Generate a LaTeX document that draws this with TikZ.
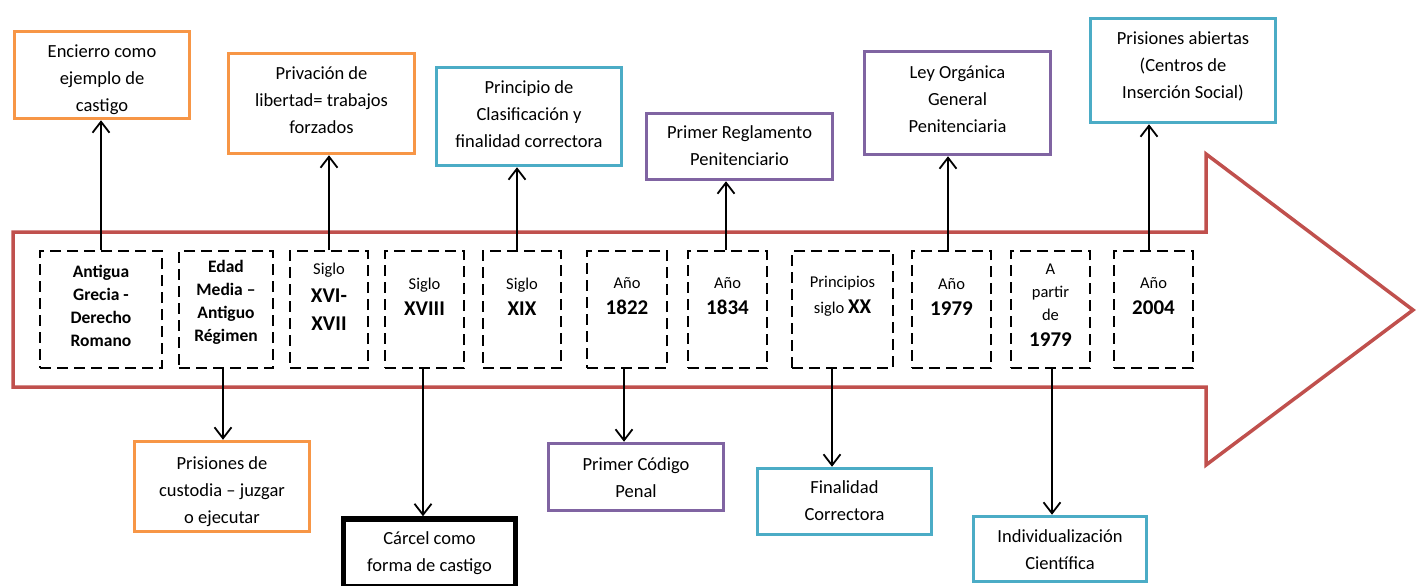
\documentclass[tikz,border=0pt]{standalone}
\usepackage{fontspec}
\setmainfont{Carlito}
\usetikzlibrary{arrows.meta}
\definecolor{cred}{HTML}{C0504D}
\definecolor{corange}{HTML}{F79646}
\definecolor{cblue}{HTML}{4BACC6}
\definecolor{cpurple}{HTML}{8064A2}
\newcommand\tfont{\fontsize{18.5}{27}\selectfont}
\newcommand\smallf{\fontsize{16.5}{26}\selectfont}
\newcommand\bigb{\fontsize{21}{26}\selectfont\bfseries}
\begin{document}
\begin{tikzpicture}[x=1pt,y=-1pt,
  ebox/.style={draw, line width=3.5pt, inner sep=0pt, fill=white},
  btxt/.style={align=center, font=\tfont, inner sep=0pt},
  dbox/.style={draw, line width=2pt, dash pattern=on 11pt off 6pt, minimum height=117pt, inner sep=0pt},
  dtxt/.style={align=center, inner sep=0pt},
  conn/.style={draw, line width=1.8pt, -{Straight Barb[length=11pt,width=17pt]}}]
\useasboundingbox (0,0) rectangle (1416,586);
\clip (0,0) rectangle (1416,586);
% big red arrow
\draw[cred, line width=3.5pt, line join=miter]
  (13,232) -- (1206,232) -- (1206,154) -- (1413,310) -- (1206,465) -- (1206,387) -- (13,387) -- cycle;
% top boxes
\node[ebox, draw=corange, minimum width=175pt, minimum height=87pt] (t1) at (102,75) {};
\node[btxt] (t1l) at (102,79.7) {Encierro como\\ejemplo de\\castigo};
\node[ebox, draw=corange, minimum width=186pt, minimum height=100pt] (t2) at (321.5,103.5) {};
\node[btxt] (t2l) at (321.5,100.5) {Privación de\\libertad= trabajos\\forzados};
\node[ebox, draw=cblue, minimum width=185pt, minimum height=98pt] (t3) at (529,116.5) {};
\node[btxt] (t3l) at (529,114.5) {Principio de\\Clasificación y\\finalidad correctora};
\node[ebox, draw=cpurple, minimum width=186pt, minimum height=66pt] (t4) at (739.5,146.5) {};
\node[btxt] (t4l) at (739.5,146) {Primer Reglamento\\Penitenciario};
\node[ebox, draw=cpurple, minimum width=186pt, minimum height=103pt] (t5) at (957.5,103) {};
\node[btxt] (t5l) at (957.5,99) {Ley Orgánica\\General\\Penitenciaria};
\node[ebox, draw=cblue, minimum width=185pt, minimum height=104pt] (t6) at (1183,70.5) {};
\node[btxt] (t6l) at (1183,66) {Prisiones abiertas\\(Centros de\\Inserción Social)};
% bottom boxes
\node[ebox, draw=corange, minimum width=175pt, minimum height=90pt] (b1) at (222,486.5) {};
\node[btxt] (b1l) at (222,491.5) {Prisiones de\\custodia – juzgar\\o ejecutar};
\node[ebox, draw=black, line width=5.5pt, minimum width=172pt, minimum height=68pt] (b2) at (429.5,553) {};
\node[btxt] (b2l) at (429.5,553) {Cárcel como\\forma de castigo};
\node[ebox, draw=cpurple, minimum width=175pt, minimum height=67pt] (b3) at (636,477) {};
\node[btxt] (b3l) at (636,478) {Primer Código\\Penal};
\node[ebox, draw=cblue, minimum width=174pt, minimum height=66pt] (b4) at (844.5,501.5) {};
\node[btxt] (b4l) at (844.5,500.5) {Finalidad\\Correctora};
\node[ebox, draw=cblue, minimum width=173pt, minimum height=65pt] (b5) at (1060,549) {};
\node[btxt] (b5l) at (1060,549.5) {Individualización\\Científica};
% dashed boxes
\node[dbox, minimum width=122pt] (d1) at (101,309.5) {};
\node[dbox, minimum width=94pt] (d2) at (226,309.5) {};
\node[dbox, minimum width=78pt] (d3) at (329,309.5) {};
\node[dbox, minimum width=79pt] (d4) at (424.5,309.5) {};
\node[dbox, minimum width=78pt] (d5) at (522,309.5) {};
\node[dbox, minimum width=80pt] (d6) at (627,309.5) {};
\node[dbox, minimum width=79pt] (d7) at (727.5,309.5) {};
\node[dbox, minimum width=101pt] (d8) at (842.5,309.5) {};
\node[dbox, minimum width=79pt] (d9) at (951.5,309.5) {};
\node[dbox, minimum width=79pt] (d10) at (1050.5,309.5) {};
\node[dbox, minimum width=79pt] (d11) at (1153.5,309.5) {};
% texts in dashed boxes
\node[dtxt, font=\fontsize{17.5}{23}\selectfont\bfseries] (d1t) at (101,305.5) {Antigua\\Grecia -\\Derecho\\Romano};
\node[dtxt, font=\fontsize{17.5}{23}\selectfont\bfseries] (d2t) at (226,302.5) {Edad\\Media –\\Antiguo\\Régimen};
\node[dtxt, font=\fontsize{16.5}{28}\selectfont] (d3t) at (329,297) {Siglo\\{\bigb XVI-}\\{\bigb XVII}};
\node[dtxt, font=\smallf] (d4t) at (424.5,296.5) {Siglo\\{\bigb XVIII}};
\node[dtxt, font=\smallf] (d5t) at (522,296.5) {Siglo\\{\bigb XIX}};
\node[dtxt, font=\smallf] (d6t) at (627,296.5) {Año\\{\bigb 1822}};
\node[dtxt, font=\smallf] (d7t) at (727.5,296.5) {Año\\{\bigb 1834}};
\node[dtxt, font=\smallf] (d8t) at (842.5,296.5) {Principios\\siglo {\bigb XX}};
\node[dtxt, font=\smallf] (d9t) at (951.5,296.5) {Año\\{\bigb 1979}};
\node[dtxt, font=\fontsize{16.5}{23}\selectfont] (d10t) at (1050.5,305.5) {A\\partir\\de\\[3pt]{\bigb 1979}};
\node[dtxt, font=\smallf] (d11t) at (1153.5,296.5) {Año\\{\bigb 2004}};
% connectors up
\draw[conn] (d1.north) -- (d1.north |- t1.south);
\draw[conn] (d3.north) -- (d3.north |- t2.south);
\draw[conn] ([xshift=-5pt]d5.north) -- ([xshift=-5pt]d5.north |- t3.south);
\draw[conn] ([xshift=-1.5pt]d7.north) -- ([xshift=-1.5pt]d7.north |- t4.south);
\draw[conn] ([xshift=-3.5pt]d9.north) -- ([xshift=-3.5pt]d9.north |- t5.south);
\draw[conn] ([xshift=-4.5pt]d11.north) -- ([xshift=-4.5pt]d11.north |- t6.south);
% connectors down
\draw[conn] ([xshift=-3pt]d2.south) -- ([xshift=-3pt]d2.south |- b1.north);
\draw[conn] ([xshift=-1.5pt]d4.south) -- ([xshift=-1.5pt]d4.south |- b2.north);
\draw[conn] ([xshift=-3pt]d6.south) -- ([xshift=-3pt]d6.south |- b3.north);
\draw[conn] ([xshift=-10.5pt]d8.south) -- ([xshift=-10.5pt]d8.south |- b4.north);
\draw[conn] ([xshift=1.5pt]d10.south) -- ([xshift=1.5pt]d10.south |- b5.north);
\end{tikzpicture}
\end{document}
